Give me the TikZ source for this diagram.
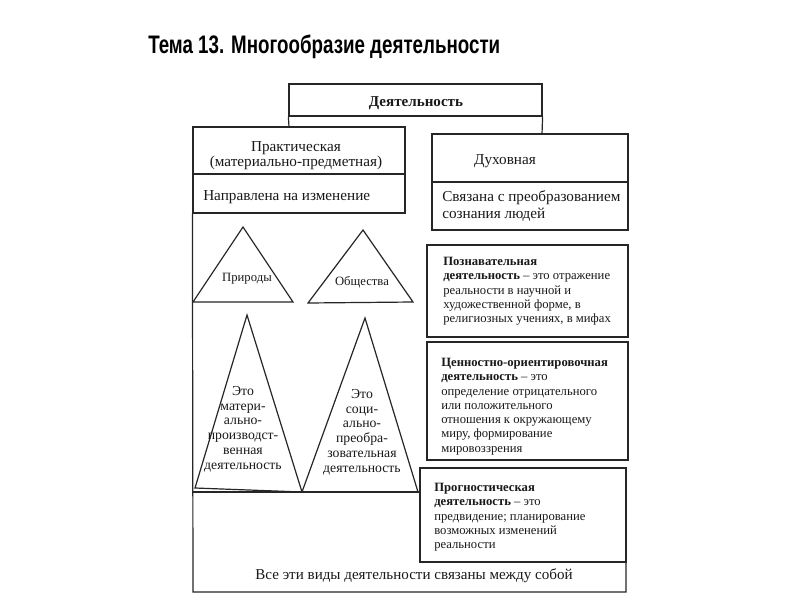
\documentclass[tikz,border=0pt]{standalone}
\usepackage{fontspec}
\setmainfont{Liberation Serif}
\newfontfamily\titlefont{Liberation Sans}
\usetikzlibrary{fit}
\tikzset{
  frame/.style={draw=black!85, line width=0.9pt},
  box/.style={frame, inner sep=0pt},
  txt/.style={font=\fontsize{9.5}{10.7}\selectfont, inner sep=0pt, text=black!90},
  bigtxt/.style={txt, font=\fontsize{11.4}{11.3}\selectfont},
  ltxt/.style={txt, align=left, anchor=north west},
  ctxt/.style={txt, align=center},
  tritxt/.style={ctxt, font=\fontsize{10.3}{11.1}\selectfont},
}
\begin{document}
\begin{tikzpicture}[x=0.75pt,y=-0.75pt]
\useasboundingbox[fill=white] (0,0) rectangle (800,600);
% title
\node[anchor=west, inner sep=0pt, font=\titlefont\bfseries\fontsize{19}{22}\selectfont] (title) at (148,47)
  {\scalebox{0.74}[1]{Тема 13. Многообразие деятельности}};
% top box
\node[box, fit={(289,84) (542,116)}] (top) {};
\node[bigtxt, font=\fontsize{11.3}{11.3}\selectfont\bfseries] (toptxt) at (416,103) {Деятельность};
\coordinate (tl) at (289,127);
\coordinate (tr) at (542,134);
\draw[frame] (top.south west) -- (tl);
\draw[frame] (top.south east) -- (tr);
% practical
\node[box, fit={(193,127) (405,174)}] (prak) {};
\node[bigtxt, align=center] (praktxt) at (296,156) {Практическая\\(материально-предметная)};
\node[box, fit={(193,174) (405,213)}] (naprav) {};
\node[bigtxt, anchor=west] (napravtxt) at (203,197) {Направлена на изменение};
% spiritual
\node[box, fit={(432,134) (628,182)}] (duh) {};
\node[bigtxt] (duhtxt) at (505,161) {Духовная};
\node[box, fit={(432,182) (628,230)}] (sviaz) {};
\node[bigtxt, align=left, anchor=west, font=\fontsize{11.4}{12.4}\selectfont] (sviaztxt) at (442,206) {Связана с преобразованием\\сознания людей};
% outer frame
\coordinate (o1) at (193,592);
\coordinate (o2) at (626,592);
\coordinate (o3) at (626,562);
\draw[frame] (naprav.south west) -- (o1) -- (o2) -- (o3);
\coordinate (b1) at (193,492);
\coordinate (b2) at (420,492);
\draw[frame] (b1) -- (b2);
% triangles
\draw[frame, line join=miter] (243,227) -- (293,302) -- (193,302) -- cycle;
\draw[frame, line join=miter] (363,230) -- (413,302) -- (308,303) -- cycle;
\draw[frame, line join=miter] (247,315) -- (302,492) -- (195,488) -- cycle;
\draw[frame, line join=miter] (365,318) -- (418,492) -- (302,492) -- cycle;
\node[ctxt] (prir) at (247,279) {Природы};
\node[ctxt] (obsh) at (362,282) {Общества};
\node[tritxt] (mat) at (243,429) {Это\\матери-\\ально-\\производст-\\венная\\деятельность};
\node[tritxt] (soc) at (362,432) {Это\\соци-\\ально-\\преобра-\\зовательная\\деятельность};
% right boxes
\node[box, fit={(427,245) (628,337)}] (pozn) {};
\node[ltxt] (pozntxt) at (443,257) {\textbf{Познавательная}\\\textbf{деятельность} -- это отражение\\реальности в научной и\\художественной форме, в\\религиозных учениях, в мифах};
\node[box, fit={(427,342) (628,460)}] (cenn) {};
\node[ltxt] (cenntxt) at (441,358) {\textbf{Ценностно-ориентировочная}\\\textbf{деятельность} -- это\\определение отрицательного\\или положительного\\отношения к окружающему\\миру, формирование\\мировоззрения};
\node[box, fit={(420,468) (626,562)}] (progn) {};
\node[ltxt] (progntxt) at (434,483) {\textbf{Прогностическая}\\\textbf{деятельность} -- это\\предвидение; планирование\\возможных изменений\\реальности};
% bottom
\node[bigtxt, font=\fontsize{11.3}{11.3}\selectfont] (vse) at (414,576) {Все эти виды деятельности связаны между собой};
\end{tikzpicture}
\end{document}
